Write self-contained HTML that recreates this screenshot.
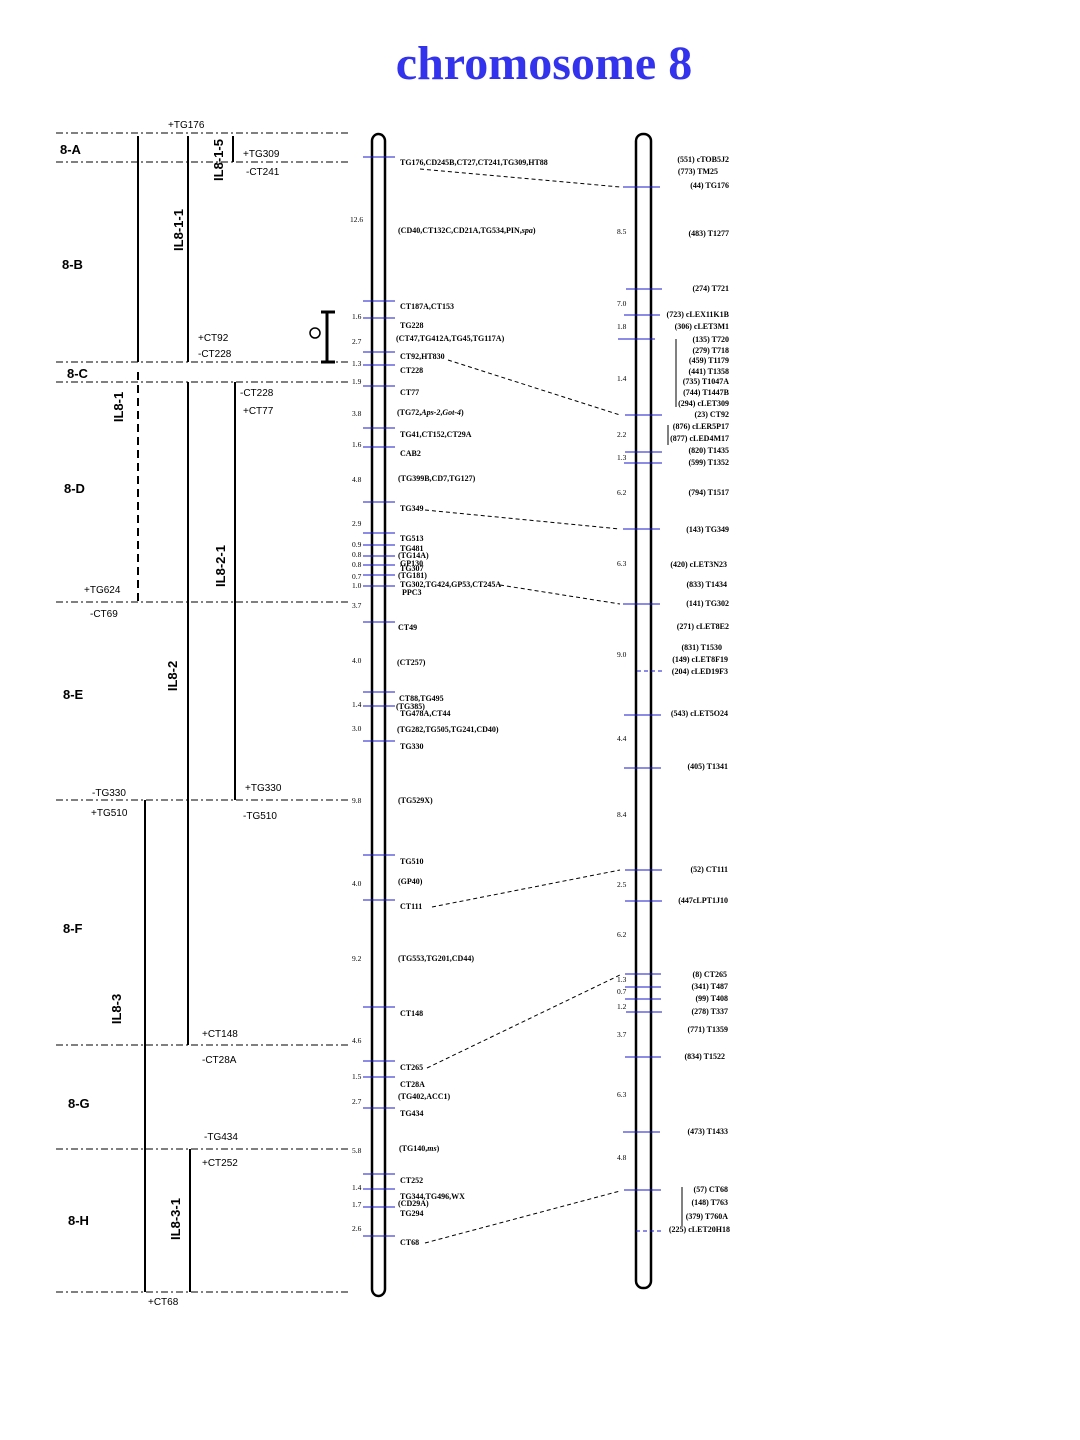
<!DOCTYPE html>
<html><head><meta charset="utf-8"><style>
html,body{margin:0;padding:0;background:#fff;width:1080px;height:1440px;overflow:hidden}
svg text{font-family:"Liberation Serif",serif}
.a{font-family:"Liberation Sans",sans-serif;font-size:10px}
.b{font-family:"Liberation Sans",sans-serif;font-size:13px;font-weight:bold}
.m{font-size:8px;font-weight:bold}
.d{font-size:7.5px}
.r{font-size:8px;font-weight:bold;text-anchor:end}
</style></head><body>
<svg width="1080" height="1440" xmlns="http://www.w3.org/2000/svg">
<text x="544" y="79" text-anchor="middle" style="font-family:'Liberation Serif',serif;font-size:48px;font-weight:bold" fill="#3333ee">chromosome 8</text>
<g stroke="#000" stroke-width="1" stroke-dasharray="7,3,2,3">
<line x1="56" y1="133" x2="350" y2="133"/><line x1="56" y1="162" x2="350" y2="162"/>
<line x1="56" y1="362" x2="350" y2="362"/><line x1="56" y1="382" x2="350" y2="382"/>
<line x1="56" y1="602" x2="350" y2="602"/><line x1="56" y1="800" x2="350" y2="800"/>
<line x1="56" y1="1045" x2="350" y2="1045"/><line x1="56" y1="1149" x2="350" y2="1149"/>
<line x1="56" y1="1292" x2="350" y2="1292"/>
</g>
<g class="b">
<text x="60" y="154" class="b">8-A</text><text x="62" y="269" class="b">8-B</text>
<text x="67" y="378" class="b">8-C</text><text x="64" y="493" class="b">8-D</text>
<text x="63" y="699" class="b">8-E</text><text x="63" y="933" class="b">8-F</text>
<text x="68" y="1108" class="b">8-G</text><text x="68" y="1225" class="b">8-H</text>
</g>
<g stroke="#000" stroke-width="2">
<line x1="138" y1="136" x2="138" y2="362"/>
<line x1="138" y1="372" x2="138" y2="602" stroke-dasharray="8,5"/>
<line x1="188" y1="136" x2="188" y2="362"/>
<line x1="233" y1="136" x2="233" y2="162"/>
<line x1="188" y1="382" x2="188" y2="1045"/>
<line x1="235" y1="382" x2="235" y2="800"/>
<line x1="145" y1="800" x2="145" y2="1292"/>
<line x1="190" y1="1149" x2="190" y2="1292"/>
<line x1="327" y1="312" x2="327" y2="362" stroke-width="3"/>
<line x1="321" y1="312" x2="335" y2="312" stroke-width="3"/>
<line x1="321" y1="362" x2="335" y2="362" stroke-width="3"/>
</g>
<circle cx="315" cy="333" r="5" fill="none" stroke="#000" stroke-width="1.5"/>
<g class="b">
<text transform="translate(223,160) rotate(-90)" text-anchor="middle" class="b">IL8-1-5</text>
<text transform="translate(183,230) rotate(-90)" text-anchor="middle" class="b">IL8-1-1</text>
<text transform="translate(123,407) rotate(-90)" text-anchor="middle" class="b">IL8-1</text>
<text transform="translate(177,676) rotate(-90)" text-anchor="middle" class="b">IL8-2</text>
<text transform="translate(225,566) rotate(-90)" text-anchor="middle" class="b">IL8-2-1</text>
<text transform="translate(121,1009) rotate(-90)" text-anchor="middle" class="b">IL8-3</text>
<text transform="translate(180,1219) rotate(-90)" text-anchor="middle" class="b">IL8-3-1</text>
</g>
<g>
<text class="a" x="168" y="128">+TG176</text><text class="a" x="243" y="157">+TG309</text>
<text class="a" x="246" y="175">-CT241</text><text class="a" x="198" y="341">+CT92</text>
<text class="a" x="198" y="357">-CT228</text><text class="a" x="240" y="396">-CT228</text>
<text class="a" x="243" y="414">+CT77</text><text class="a" x="84" y="593">+TG624</text>
<text class="a" x="90" y="617">-CT69</text><text class="a" x="92" y="796">-TG330</text>
<text class="a" x="245" y="791">+TG330</text><text class="a" x="91" y="816">+TG510</text>
<text class="a" x="243" y="819">-TG510</text><text class="a" x="202" y="1037">+CT148</text>
<text class="a" x="202" y="1063">-CT28A</text><text class="a" x="204" y="1140">-TG434</text>
<text class="a" x="202" y="1166">+CT252</text><text class="a" x="148" y="1305">+CT68</text>
</g>
<rect x="372" y="134" width="13" height="1162" rx="7" fill="none" stroke="#000" stroke-width="2.5"/>
<rect x="636" y="134" width="15" height="1154" rx="7" fill="none" stroke="#000" stroke-width="2.5"/>
<g stroke="#1a1acc" stroke-width="1">
<line x1="363" y1="157" x2="395" y2="157"/><line x1="363" y1="301" x2="395" y2="301"/>
<line x1="363" y1="318" x2="395" y2="318"/><line x1="363" y1="352" x2="395" y2="352"/>
<line x1="363" y1="365" x2="395" y2="365"/><line x1="363" y1="386" x2="395" y2="386"/>
<line x1="363" y1="428" x2="395" y2="428"/><line x1="363" y1="447" x2="395" y2="447"/>
<line x1="363" y1="502" x2="395" y2="502"/><line x1="363" y1="533" x2="395" y2="533"/>
<line x1="363" y1="545" x2="395" y2="545"/><line x1="363" y1="556" x2="395" y2="556"/>
<line x1="363" y1="565" x2="395" y2="565"/><line x1="363" y1="575" x2="395" y2="575"/>
<line x1="363" y1="586" x2="395" y2="586"/><line x1="363" y1="622" x2="395" y2="622"/>
<line x1="363" y1="692" x2="395" y2="692"/><line x1="363" y1="706" x2="395" y2="706"/>
<line x1="363" y1="741" x2="395" y2="741"/><line x1="363" y1="855" x2="395" y2="855"/>
<line x1="363" y1="900" x2="395" y2="900"/><line x1="363" y1="1007" x2="395" y2="1007"/>
<line x1="363" y1="1061" x2="395" y2="1061"/><line x1="363" y1="1077" x2="395" y2="1077"/>
<line x1="363" y1="1108" x2="395" y2="1108"/><line x1="363" y1="1174" x2="395" y2="1174"/>
<line x1="363" y1="1189" x2="395" y2="1189"/><line x1="363" y1="1207" x2="395" y2="1207"/>
<line x1="363" y1="1236" x2="395" y2="1236"/>
<line x1="623" y1="187" x2="660" y2="187"/><line x1="626" y1="289" x2="662" y2="289"/>
<line x1="624" y1="315" x2="660" y2="315"/><line x1="618" y1="339" x2="655" y2="339"/>
<line x1="625" y1="415" x2="662" y2="415"/><line x1="625" y1="452" x2="662" y2="452"/>
<line x1="624" y1="463" x2="662" y2="463"/><line x1="623" y1="529" x2="660" y2="529"/>
<line x1="623" y1="604" x2="660" y2="604"/>
<line x1="637" y1="671" x2="662" y2="671" stroke-dasharray="4,3"/>
<line x1="624" y1="715" x2="661" y2="715"/><line x1="624" y1="768" x2="661" y2="768"/>
<line x1="625" y1="870" x2="662" y2="870"/><line x1="625" y1="901" x2="662" y2="901"/>
<line x1="625" y1="974" x2="661" y2="974"/><line x1="625" y1="987" x2="661" y2="987"/>
<line x1="625" y1="999" x2="661" y2="999"/><line x1="626" y1="1012" x2="662" y2="1012"/>
<line x1="625" y1="1057" x2="661" y2="1057"/><line x1="623" y1="1132" x2="660" y2="1132"/>
<line x1="624" y1="1190" x2="661" y2="1190"/>
<line x1="636" y1="1231" x2="661" y2="1231" stroke-dasharray="4,3"/>
</g>
<g stroke="#000" stroke-width="1">
<line x1="676" y1="339" x2="676" y2="407"/><line x1="668" y1="425" x2="668" y2="445"/>
<line x1="682" y1="1187" x2="682" y2="1226"/>
</g>
<g stroke="#000" stroke-width="1" stroke-dasharray="4,3" fill="none">
<line x1="420" y1="169" x2="620" y2="187"/><line x1="448" y1="360" x2="620" y2="415"/>
<line x1="425" y1="510" x2="620" y2="529"/><line x1="500" y1="585" x2="620" y2="604"/>
<line x1="432" y1="907" x2="620" y2="870"/><line x1="427" y1="1068" x2="620" y2="975"/>
<line x1="425" y1="1243" x2="620" y2="1191"/>
</g>
<g class="d">
<text class="d" x="350" y="222">12.6</text><text class="d" x="352" y="319">1.6</text>
<text class="d" x="352" y="344">2.7</text><text class="d" x="352" y="366">1.3</text>
<text class="d" x="352" y="384">1.9</text><text class="d" x="352" y="416">3.8</text>
<text class="d" x="352" y="447">1.6</text><text class="d" x="352" y="482">4.8</text>
<text class="d" x="352" y="526">2.9</text><text class="d" x="352" y="547">0.9</text>
<text class="d" x="352" y="557">0.8</text><text class="d" x="352" y="567">0.8</text>
<text class="d" x="352" y="579">0.7</text><text class="d" x="352" y="588">1.0</text>
<text class="d" x="352" y="608">3.7</text><text class="d" x="352" y="663">4.0</text>
<text class="d" x="352" y="707">1.4</text><text class="d" x="352" y="731">3.0</text>
<text class="d" x="352" y="803">9.8</text><text class="d" x="352" y="886">4.0</text>
<text class="d" x="352" y="961">9.2</text><text class="d" x="352" y="1043">4.6</text>
<text class="d" x="352" y="1079">1.5</text><text class="d" x="352" y="1104">2.7</text>
<text class="d" x="352" y="1153">5.8</text><text class="d" x="352" y="1190">1.4</text>
<text class="d" x="352" y="1207">1.7</text><text class="d" x="352" y="1231">2.6</text>
<text class="d" x="617" y="234">8.5</text><text class="d" x="617" y="306">7.0</text>
<text class="d" x="617" y="329">1.8</text><text class="d" x="617" y="381">1.4</text>
<text class="d" x="617" y="437">2.2</text><text class="d" x="617" y="460">1.3</text>
<text class="d" x="617" y="495">6.2</text><text class="d" x="617" y="566">6.3</text>
<text class="d" x="617" y="657">9.0</text><text class="d" x="617" y="741">4.4</text>
<text class="d" x="617" y="817">8.4</text><text class="d" x="617" y="887">2.5</text>
<text class="d" x="617" y="937">6.2</text><text class="d" x="617" y="982">1.3</text>
<text class="d" x="617" y="994">0.7</text><text class="d" x="617" y="1009">1.2</text>
<text class="d" x="617" y="1037">3.7</text><text class="d" x="617" y="1097">6.3</text>
<text class="d" x="617" y="1160">4.8</text>
</g>
<g>
<text class="m" x="400" y="165">TG176,CD245B,CT27,CT241,TG309,HT88</text>
<text class="m" x="398" y="233">(CD40,CT132C,CD21A,TG534,PIN,<tspan font-style="italic">spa</tspan>)</text>
<text class="m" x="400" y="309">CT187A,CT153</text>
<text class="m" x="400" y="328">TG228</text>
<text class="m" x="396" y="341">(CT47,TG412A,TG45,TG117A)</text>
<text class="m" x="400" y="359">CT92,HT830</text>
<text class="m" x="400" y="373">CT228</text>
<text class="m" x="400" y="395">CT77</text>
<text class="m" x="397" y="415">(TG72,<tspan font-style="italic">Aps-2</tspan>,<tspan font-style="italic">Got-4</tspan>)</text>
<text class="m" x="400" y="437">TG41,CT152,CT29A</text>
<text class="m" x="400" y="456">CAB2</text>
<text class="m" x="398" y="481">(TG399B,CD7,TG127)</text>
<text class="m" x="400" y="511">TG349</text>
<text class="m" x="400" y="541">TG513</text>
<text class="m" x="400" y="551">TG481</text>
<text class="m" x="398" y="558">(TG14A)</text>
<text class="m" x="400" y="566">GP130</text>
<text class="m" x="400" y="571">TG307</text>
<text class="m" x="398" y="578">(TG181)</text>
<text class="m" x="400" y="587">TG302,TG424,GP53,CT245A</text>
<text class="m" x="402" y="595">PPC3</text>
<text class="m" x="398" y="630">CT49</text>
<text class="m" x="397" y="665">(CT257)</text>
<text class="m" x="399" y="701">CT88,TG495</text>
<text class="m" x="396" y="709">(TG385)</text>
<text class="m" x="400" y="716">TG478A,CT44</text>
<text class="m" x="397" y="732">(TG282,TG505,TG241,CD40)</text>
<text class="m" x="400" y="749">TG330</text>
<text class="m" x="398" y="803">(TG529X)</text>
<text class="m" x="400" y="864">TG510</text>
<text class="m" x="398" y="884">(GP40)</text>
<text class="m" x="400" y="909">CT111</text>
<text class="m" x="398" y="961">(TG553,TG201,CD44)</text>
<text class="m" x="400" y="1016">CT148</text>
<text class="m" x="400" y="1070">CT265</text>
<text class="m" x="400" y="1087">CT28A</text>
<text class="m" x="398" y="1099">(TG402,ACC1)</text>
<text class="m" x="400" y="1116">TG434</text>
<text class="m" x="399" y="1151">(TG140,<tspan font-style="italic">ms</tspan>)</text>
<text class="m" x="400" y="1183">CT252</text>
<text class="m" x="400" y="1199">TG344,TG496,WX</text>
<text class="m" x="398" y="1206">(CD29A)</text>
<text class="m" x="400" y="1216">TG294</text>
<text class="m" x="400" y="1245">CT68</text>
</g>
<g>
<text class="r" x="729" y="162">(551) cTOB5J2</text>
<text class="r" x="718" y="174">(773) TM25</text>
<text class="r" x="729" y="188">(44) TG176</text>
<text class="r" x="729" y="236">(483) T1277</text>
<text class="r" x="729" y="291">(274) T721</text>
<text class="r" x="729" y="317">(723) cLEX11K1B</text>
<text class="r" x="729" y="329">(306) cLET3M1</text>
<text class="r" x="729" y="342">(135) T720</text>
<text class="r" x="729" y="353">(279) T718</text>
<text class="r" x="729" y="363">(459) T1179</text>
<text class="r" x="729" y="374">(441) T1358</text>
<text class="r" x="729" y="384">(735) T1047A</text>
<text class="r" x="729" y="395">(744) T1447B</text>
<text class="r" x="729" y="406">(294) cLET309</text>
<text class="r" x="729" y="417">(23) CT92</text>
<text class="r" x="729" y="429">(876) cLER5P17</text>
<text class="r" x="729" y="441">(877) cLED4M17</text>
<text class="r" x="729" y="453">(820) T1435</text>
<text class="r" x="729" y="465">(599) T1352</text>
<text class="r" x="729" y="495">(794) T1517</text>
<text class="r" x="729" y="532">(143) TG349</text>
<text class="r" x="727" y="567">(420) cLET3N23</text>
<text class="r" x="727" y="587">(833) T1434</text>
<text class="r" x="729" y="606">(141) TG302</text>
<text class="r" x="729" y="629">(271) cLET8E2</text>
<text class="r" x="722" y="650">(831) T1530</text>
<text class="r" x="728" y="662">(149) cLET8F19</text>
<text class="r" x="728" y="674">(204) cLED19F3</text>
<text class="r" x="728" y="716">(543) cLET5O24</text>
<text class="r" x="728" y="769">(405) T1341</text>
<text class="r" x="728" y="872">(52) CT111</text>
<text class="r" x="728" y="903">(447cLPT1J10</text>
<text class="r" x="727" y="977">(8) CT265</text>
<text class="r" x="728" y="989">(341) T487</text>
<text class="r" x="728" y="1001">(99) T408</text>
<text class="r" x="728" y="1014">(278) T337</text>
<text class="r" x="728" y="1032">(771) T1359</text>
<text class="r" x="725" y="1059">(834) T1522</text>
<text class="r" x="728" y="1134">(473) T1433</text>
<text class="r" x="728" y="1192">(57) CT68</text>
<text class="r" x="728" y="1205">(148) T763</text>
<text class="r" x="728" y="1219">(379) T760A</text>
<text class="r" x="730" y="1232">(225) cLET20H18</text>
</g>
</svg>
</body></html>
